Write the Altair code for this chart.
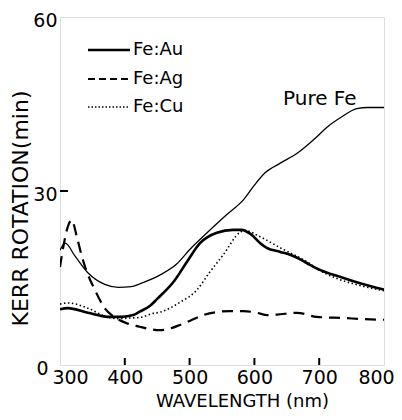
import altair as alt
import pandas as pd

# ---- data ----
fe_wl = [300, 308, 323, 343, 369, 390, 410, 423, 454, 480, 501, 527, 557, 584, 600, 616, 640, 666, 696, 712, 735, 758, 775, 800]
fe_val = [19.8, 21.0, 18.8, 15.9, 13.9, 13.4, 13.5, 14.0, 15.5, 17.4, 20.0, 22.8, 25.9, 28.6, 31.0, 33.1, 34.8, 36.5, 39.3, 41.0, 42.8, 44.2, 44.4, 44.4]

au_wl = [300, 312, 343, 374, 395, 413, 423, 439, 450, 475, 496, 516, 542, 567, 580, 594, 609, 619, 640, 655, 666, 682, 701, 732, 763, 800]
au_val = [9.6, 9.8, 9.0, 8.3, 8.3, 8.6, 9.2, 10.2, 11.4, 14.3, 17.8, 21.0, 22.8, 23.3, 23.3, 22.6, 21.0, 20.2, 19.5, 19.0, 18.5, 17.5, 16.4, 15.2, 14.1, 13.0]

ag_wl = [300, 305, 312, 318, 326, 334, 342, 354, 369, 382, 403, 423, 434, 454, 470, 485, 500, 521, 540, 562, 583, 604, 620, 635, 666, 696, 737, 770, 800]
ag_val = [16.9, 20.3, 23.8, 25.0, 22.1, 18.6, 15.9, 12.9, 9.8, 8.4, 7.2, 6.6, 6.3, 6.0, 6.3, 6.9, 7.6, 8.6, 9.1, 9.3, 9.3, 9.0, 8.6, 8.7, 9.0, 8.3, 8.1, 7.9, 7.8]

cu_wl = [300, 312, 343, 372, 390, 408, 423, 444, 454, 485, 511, 531, 552, 578, 585, 609, 640, 681, 701, 730, 763, 800]
cu_val = [10.5, 10.7, 9.8, 8.3, 8.0, 8.1, 8.2, 8.9, 9.1, 10.8, 12.9, 16.0, 19.0, 22.9, 23.2, 22.1, 20.2, 17.8, 16.3, 14.8, 13.7, 12.8]

x_ticks = [300, 400, 500, 600, 700, 800]
x_inner_ticks = [400, 500, 600, 700]
y_ticks = [0, 30, 60]
y_inner_ticks = [30]
legend_labels = ["Fe:Au", "Fe:Ag", "Fe:Cu"]
annotation = ["Pure Fe"]

FONT = "DejaVu Sans"

xs = alt.Scale(domain=[300, 800], nice=False, zero=False)
ys = alt.Scale(domain=[0, 60], nice=False)

xaxis = alt.Axis(
    values=x_ticks, title="WAVELENGTH (nm)", ticks=False, domain=False, grid=False,
    labelFont=FONT, labelFontSize=19, labelColor="black", labelPadding=3, labelFlush=False,
    labelOffset={"condition": [{"test": "datum.value == 300", "value": 10},
                               {"test": "datum.value == 800", "value": -8}], "value": 0},
    titleFont=FONT, titleFontSize=18, titleFontWeight="normal", titleColor="black",
    titleX=182, titleY=27, titleBaseline="top", titleAlign="center",
)
yaxis = alt.Axis(
    values=y_ticks, title="KERR ROTATION(min)", ticks=False, domain=False, grid=False,
    labelFont=FONT, labelFontSize=19, labelColor="black", labelFlush=False,
    labelPadding={"condition": {"test": "datum.value == 0", "value": 12}, "value": 3},
    labelOffset=3,
    titleFont=FONT, titleFontSize=22, titleFontWeight="normal", titleColor="black",
    titleX=-33, titleY=191, titleAngle=270, titleBaseline="alphabetic", titleAlign="center",
)


def X():
    return alt.X("wl:Q", scale=xs, axis=xaxis)


def Y():
    return alt.Y("v:Q", scale=ys, axis=yaxis)


def curve(wl, val, width, dash=None):
    df = pd.DataFrame({"wl": wl, "v": val})
    kw = dict(color="black", strokeWidth=width, interpolate="monotone", clip=True)
    if dash:
        kw["strokeDash"] = dash
    return alt.Chart(df).mark_line(**kw).encode(x=X(), y=Y())


fe_line = curve(fe_wl, fe_val, 1.3)
au_line = curve(au_wl, au_val, 2.6)
ag_line = curve(ag_wl, ag_val, 2.2, [11, 7])
cu_line = curve(cu_wl, cu_val, 1.6, [1.5, 2.5])

# inward tick marks
xt = alt.Chart(pd.DataFrame({"wl": x_inner_ticks})).mark_rule(color="black", strokeWidth=2).encode(
    x=X(), y=alt.value(348), y2=alt.value(341))
yt = alt.Chart(pd.DataFrame({"v": y_inner_ticks})).mark_rule(color="black", strokeWidth=2).encode(
    y=Y(), x=alt.value(0), x2=alt.value(8))

# legend
leg_styles = [(2.6, None), (2.0, [7, 4]), (1.3, [1.5, 2])]
leg_y = [33, 62, 90]
legend_layers = []
for lab, (w, d), yy in zip(legend_labels, leg_styles, leg_y):
    kw = dict(color="black", strokeWidth=w)
    if d:
        kw["strokeDash"] = d
    legend_layers.append(
        alt.Chart(pd.DataFrame({"label": [lab]})).mark_rule(**kw).encode(
            x=alt.value(28), x2=alt.value(70), y=alt.value(yy)))
    legend_layers.append(
        alt.Chart(pd.DataFrame({"label": [lab]})).mark_text(
            font=FONT, fontSize=18, align="left", baseline="middle", color="black").encode(
            x=alt.value(73), y=alt.value(yy), text="label:N"))

pure_label = alt.Chart(pd.DataFrame({"label": annotation})).mark_text(
    font=FONT, fontSize=20, align="left", baseline="alphabetic", color="black").encode(
    x=alt.value(223), y=alt.value(88), text="label:N")

chart = alt.layer(fe_line, au_line, ag_line, cu_line, xt, yt, pure_label, *legend_layers).properties(
    width=324, height=348,
    autosize=alt.AutoSizeParams(type="none"),
    padding={"left": 52, "top": 9, "right": 10, "bottom": 47},
).configure_view(stroke="black", strokeWidth=2.2).configure(background="white")

chart.save("out.html", embed_options={"renderer": "svg", "actions": False})
